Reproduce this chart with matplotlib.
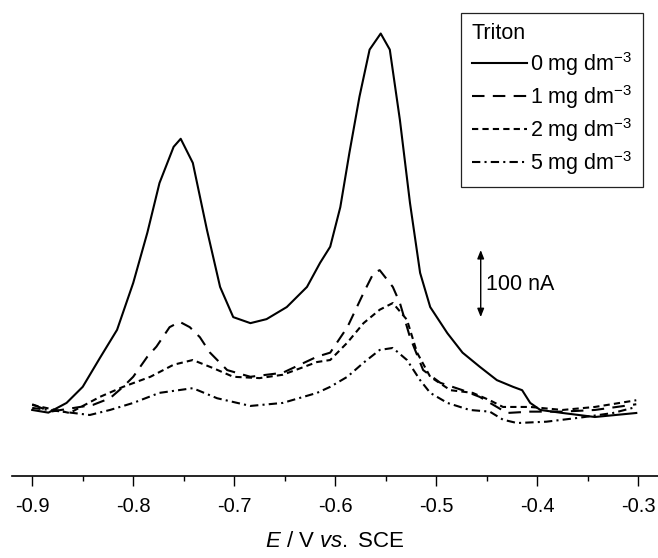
import matplotlib
matplotlib.use("Agg")
import matplotlib.pyplot as plt
from matplotlib.ticker import MultipleLocator

plt.rcParams['font.family'] = ['Liberation Sans', 'DejaVu Sans']
plt.rcParams['mathtext.fontset'] = 'custom'
plt.rcParams['mathtext.rm'] = 'Liberation Sans'
plt.rcParams['mathtext.it'] = 'Liberation Sans:italic'

# Potencial (V vs. SCE) e corrente (nA)
E_0 = [-0.900, -0.884, -0.866, -0.850, -0.833, -0.816, -0.800, -0.786, -0.774, -0.760,
       -0.753, -0.741, -0.727, -0.714, -0.701, -0.684, -0.668, -0.648, -0.628, -0.615,
       -0.605, -0.595, -0.586, -0.576, -0.566, -0.555, -0.546, -0.536, -0.526, -0.516,
       -0.506, -0.489, -0.474, -0.457, -0.440, -0.424, -0.415, -0.407, -0.397, -0.375,
       -0.343, -0.302]
I_0 = [-1.5, -5.5, 9, 33, 76, 118, 188, 263, 337, 391,
       403, 367, 267, 182, 137, 128, 134, 152, 182, 218,
       242, 301, 382, 466, 536, 560, 536, 431, 307, 203,
       152, 113, 84, 63, 43, 33, 28, 9, -1.5, -6,
       -12, -6]

E_1 = [-0.900, -0.882, -0.840, -0.823, -0.810, -0.800, -0.786, -0.777, -0.764, -0.754,
       -0.744, -0.734, -0.724, -0.707, -0.684, -0.652, -0.618, -0.605, -0.588, -0.572,
       -0.562, -0.556, -0.543, -0.536, -0.526, -0.513, -0.496, -0.474, -0.457, -0.440,
       -0.430, -0.407, -0.375, -0.343, -0.302]
I_1 = [7, -4, 6, 16, 33, 48, 78, 93, 122, 130,
       122, 107, 84, 58, 48, 54, 78, 84, 122, 173,
       203, 207, 182, 158, 107, 58, 39, 28, 18, 3,
       -6, -4, -4, -1.5, 7]

E_2 = [-0.900, -0.863, -0.833, -0.810, -0.783, -0.760, -0.741, -0.721, -0.701, -0.675,
       -0.652, -0.618, -0.605, -0.588, -0.572, -0.556, -0.543, -0.529, -0.519, -0.506,
       -0.486, -0.464, -0.447, -0.434, -0.407, -0.375, -0.343, -0.302]
I_2 = [6, -6, 18, 33, 48, 66, 73, 61, 48, 46,
       51, 70, 73, 99, 128, 148, 158, 133, 84, 48,
       28, 24, 13, 3, 3, -1.5, 3, 13]

E_5 = [-0.900, -0.843, -0.823, -0.800, -0.774, -0.741, -0.717, -0.684, -0.652, -0.618,
       -0.605, -0.588, -0.572, -0.556, -0.543, -0.529, -0.516, -0.506, -0.489, -0.467,
       -0.447, -0.434, -0.420, -0.391, -0.358, -0.325, -0.302]
I_5 = [1.5, -9, -1.5, 9, 24, 31, 16, 4.5, 9, 24,
       33, 48, 69, 88, 91, 73, 43, 24, 9, -1.5,
       -4, -16, -21, -19, -13, -6, 3]

rotulos = ["0 mg dm$^{\\mathregular{-3}}$", "1 mg dm$^{\\mathregular{-3}}$",
           "2 mg dm$^{\\mathregular{-3}}$", "5 mg dm$^{\\mathregular{-3}}$"]
ticks_x = [-0.9, -0.8, -0.7, -0.6, -0.5, -0.4, -0.3]
ticks_rot = ["-0.9", "-0.8", "-0.7", "-0.6", "-0.5", "-0.4", "-0.3"]

fig = plt.figure(figsize=(6.58, 5.58), dpi=100)
ax = fig.add_axes([12 / 658, 1 - 476 / 558, 646 / 658, 476 / 558])

lw = 1.5
ax.plot(E_0, I_0, color="black", lw=lw, label=rotulos[0])
ax.plot(E_1, I_1, color="black", lw=lw, dashes=(6, 4), label=rotulos[1])
ax.plot(E_2, I_2, color="black", lw=lw, dashes=(3, 2), label=rotulos[2])
ax.plot(E_5, I_5, color="black", lw=lw, dashes=(4, 2, 1, 2), label=rotulos[3])

ax.set_xlim(-0.920, -0.2805)
ax.set_ylim(-100, 610)

for s in ["top", "left", "right"]:
    ax.spines[s].set_visible(False)
ax.spines["bottom"].set_linewidth(1.2)
ax.set_yticks([])
ax.set_xticks(ticks_x)
ax.set_xticklabels(ticks_rot)
ax.xaxis.set_minor_locator(MultipleLocator(0.05))
ax.tick_params(axis="x", which="major", length=7, width=1.0, pad=8, labelsize=14.5)
ax.tick_params(axis="x", which="minor", length=3.6, width=1.0)
ax.set_xlabel("$\\mathit{E}$ / V $\\mathit{vs.}$ SCE", fontsize=16, labelpad=11)

# Barra de escala 100 nA
ax.annotate("", xy=(-0.456, 237), xytext=(-0.456, 137),
            arrowprops=dict(arrowstyle="<|-|>,head_length=0.5,head_width=0.2",
                            color="black", lw=1.0, shrinkA=0, shrinkB=0))
ax.text(-0.4505, 186, "100 nA", fontsize=15.5, va="center", ha="left")

leg = ax.legend(loc="upper right", bbox_to_anchor=(643 / 658, 1 - 12.7 / 558),
                bbox_transform=fig.transFigure, borderaxespad=0,
                title="Triton", title_fontsize=15.5, fontsize=15.5, alignment="left",
                fancybox=False, framealpha=1, edgecolor="#222222",
                handlelength=2.55, handletextpad=0.15, labelspacing=0.24,
                borderpad=0.5)
leg.get_frame().set_linewidth(0.9)

fig.savefig("out.png", dpi=100)
